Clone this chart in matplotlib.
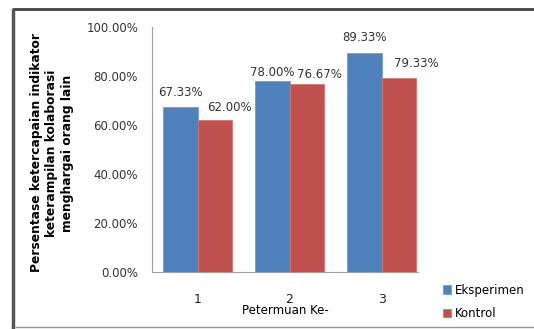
import matplotlib.pyplot as plt
from matplotlib.lines import Line2D

# data per meeting
meetings = ["1", "2", "3"]
eksperimen = [67.33, 78.00, 89.33]
kontrol = [62.00, 76.67, 79.33]

plt.rcParams['font.family'] = ['DejaVu Sans']

fig = plt.figure(figsize=(5.34, 3.29), dpi=100)
ax = fig.add_axes([152/534, 1 - 272/329, 266/534, 245/329])

x = list(range(len(meetings)))
w = 0.375
b1 = ax.bar([i - w/2 for i in x], eksperimen, w, color="#4F81BD", edgecolor="#6E9BD3", linewidth=0.6, label="Eksperimen")
b2 = ax.bar([i + w/2 for i in x], kontrol, w, color="#C0504D", edgecolor="#D67470", linewidth=0.6, label="Kontrol")

# value labels (pixel offsets)
off_e = [(0, 15), (0, 8), (0, 16)]
off_k = [(15, 13), (13, 10), (17, 14)]
for bar, v, o in zip(b1, eksperimen, off_e):
    ax.annotate(f"{v:.2f}%", (bar.get_x() + bar.get_width()/2, v), xytext=o,
                textcoords="offset pixels", ha="center", va="center", fontsize=8.5, color="#333333")
for bar, v, o in zip(b2, kontrol, off_k):
    ax.annotate(f"{v:.2f}%", (bar.get_x() + bar.get_width()/2, v), xytext=o,
                textcoords="offset pixels", ha="center", va="center", fontsize=8.5, color="#333333")

ax.set_xlim(-0.495, 2.396)
ax.set_ylim(0, 100)
ax.set_yticks([0, 20, 40, 60, 80, 100])
ax.set_yticklabels([f"{t:.2f}%" for t in [0, 20, 40, 60, 80, 100]], fontsize=8.5, color="#333333")
ax.set_xticks(x)
ax.set_xticklabels(meetings, fontsize=9, color="#222222")
ax.tick_params(axis="y", length=0, pad=10)
ax.tick_params(axis="x", length=0, pad=15)
for s in ["top", "right"]:
    ax.spines[s].set_visible(False)
ax.spines["left"].set_color("#A0A0A0")
ax.spines["bottom"].set_color("#A0A0A0")

ax.set_xlabel("Petermuan Ke-", fontsize=8.5, labelpad=-1)
fig.text(52/534, 1 - 153/329,
         "Persentase ketercapaian indikator\nketerampilan kolaborasi\nmenghargai orang lain",
         rotation=90, ha="center", va="center", fontsize=8.8, fontweight="bold",
         linespacing=1.25)

fig.legend(handles=[b1, b2], loc="upper left", bbox_to_anchor=(432/534, 1 - 273/329),
           frameon=False, fontsize=8.5, handlelength=0.7, handleheight=0.7,
           handletextpad=0.3, labelspacing=0.9)

# outer frame
fig.add_artist(Line2D([12/534, 1], [1 - 9/329] * 2, color="#444444", lw=2, solid_capstyle="butt"))
fig.add_artist(Line2D([13/534] * 2, [0, 1 - 9/329], color="#555555", lw=2.5, solid_capstyle="butt"))
fig.add_artist(Line2D([15/534, 1], [1 - 327/329] * 2, color="#999999", lw=1, solid_capstyle="butt"))

fig.savefig("out.png", dpi=100)
